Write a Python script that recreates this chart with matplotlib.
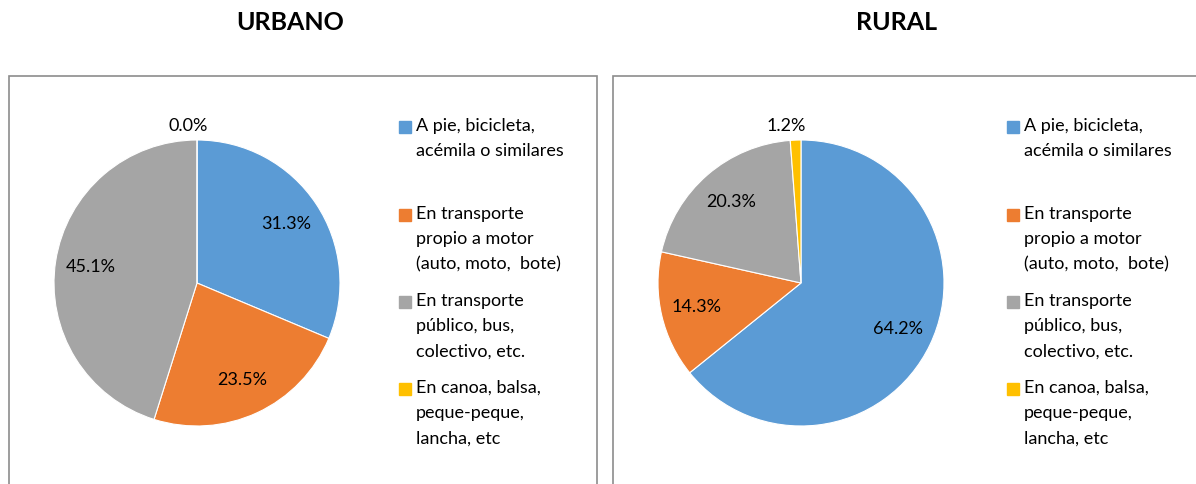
import matplotlib.pyplot as plt
from matplotlib.patches import Rectangle

# datos
categorias = ['A pie, bicicleta,\nacémila o similares',
              'En transporte\npropio a motor\n(auto, moto,  bote)',
              'En transporte\npúblico, bus,\ncolectivo, etc.',
              'En canoa, balsa,\npeque-peque,\nlancha, etc']
urbano = [31.3, 23.5, 45.1, 0.0]
rural = [64.2, 14.3, 20.3, 1.2]
titulos = ['URBANO', 'RURAL']
colores = ['#5B9BD5', '#ED7D31', '#A5A5A5', '#FFC000']

W, H = 1196, 484
fig = plt.figure(figsize=(W / 100, H / 100), dpi=100)

fuente = 'Lato'

def px(x, y):
    return x / W, 1 - y / H

paneles = [
    # caja x0, x1, centro pie, cuadro leyenda x, titulo x
    dict(vals=urbano, box=(9, 597), cx=197, leg=399, tx=290),
    dict(vals=rural, box=(613, 1210), cx=801, leg=1007, tx=897),
]

R = 143
CY = 283
for titulo, p in zip(titulos, paneles):
    # marco gris
    x0, x1 = p['box']
    fig.patches.append(Rectangle(px(x0, 560), (x1 - x0) / W, (560 - 76) / H,
                                 transform=fig.transFigure, fill=False,
                                 edgecolor='#8C8C8C', linewidth=1.2))
    fig.text(*px(p['tx'], 23), titulo, ha='center', va='center',
             fontsize=18, fontweight='bold', family=fuente)

    ax = fig.add_axes([(p['cx'] - R) / W, (H - CY - R) / H, 2 * R / W, 2 * R / H])
    wedges, textos, pcts = ax.pie(p['vals'], colors=colores, startangle=90,
                                  counterclock=False, autopct='%1.1f%%',
                                  pctdistance=0.75,
                                  wedgeprops=dict(edgecolor='white', linewidth=0.8),
                                  textprops=dict(fontsize=13, family=fuente))
    ax.set_xlim(-1, 1)
    ax.set_ylim(-1, 1)
    for w in wedges:
        w.set_clip_on(False)
    # etiquetas pequeñas fuera del pastel
    for v, w, t in zip(p['vals'], wedges, pcts):
        if v < 5:
            x, y = t.get_position()
            t.set_position((x / 0.75 * 1.1 - 0.06, y / 0.75 * 1.1))

    # leyenda manual
    for i, (cat, c) in enumerate(zip(categorias, colores)):
        ly = [127, 215, 302, 389][i]
        fig.patches.append(Rectangle(px(p['leg'], ly + 6), 12 / W, 12 / H,
                                     transform=fig.transFigure, color=c))
        fig.text(*px(p['leg'] + 17, ly - 9), cat, ha='left', va='top',
                 fontsize=13, family=fuente, linespacing=1.72)

fig.savefig('out.png', dpi=100)
